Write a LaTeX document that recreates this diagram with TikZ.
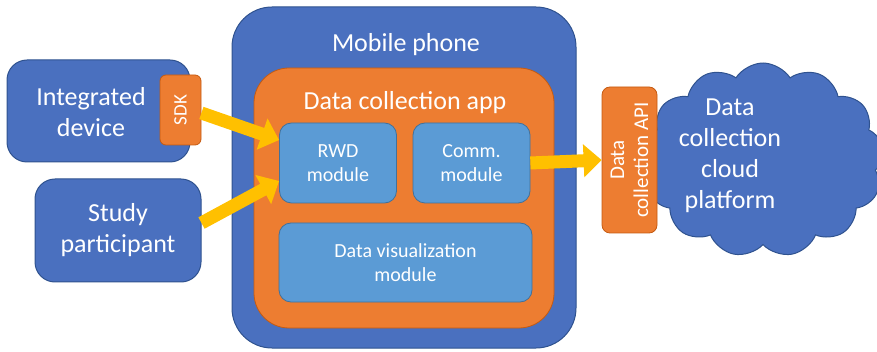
\documentclass[tikz,border=0pt]{standalone}
\usepackage{fontspec}
\setmainfont{Carlito}
\usetikzlibrary{arrows.meta,shapes.symbols}
\definecolor{dblue}{HTML}{4A70BF}
\definecolor{bblue}{HTML}{2F528F}
\definecolor{lblue}{HTML}{5B9BD5}
\definecolor{lbord}{HTML}{41719C}
\definecolor{orng}{HTML}{ED7D31}
\definecolor{obord}{HTML}{C55A11}
\definecolor{yarrow}{HTML}{FFC000}
\tikzset{
  bigfont/.style={font=\fontsize{26}{31}\selectfont, text=white, align=center},
  modfont/.style={font=\fontsize{20}{24}\selectfont, text=white, align=center},
  bluebox/.style={draw=bblue, line width=1pt, fill=dblue, rounded corners=#1, inner sep=0pt},
  orangebox/.style={draw=obord, line width=0.8pt, fill=orng, rounded corners=#1, inner sep=0pt},
  modbox/.style={draw=lbord, line width=0.8pt, fill=lblue, rounded corners=12pt, inner sep=0pt, modfont},
  fatarrow/.style={draw=yarrow, line width=13pt, -{Triangle[length=18pt,width=32pt]}}
}
\begin{document}
\begin{tikzpicture}[x=1pt,y=-1pt]
\useasboundingbox (0,0) rectangle (877,352);
% left boxes
\node[bluebox=20pt, minimum width=183pt, minimum height=102pt] (intdev) at (98.5,111) {};
\node[bigfont] (inttext) at (91,112) {Integrated\\device};
\node[orangebox=6pt, minimum width=41pt, minimum height=70pt] (sdk) at (180.5,110) {};
\node[modfont, rotate=90, font=\fontsize{19}{22}\selectfont] (sdktext) at (sdk.center) {SDK};
\node[bluebox=20pt, minimum width=166pt, minimum height=103pt, bigfont] (study) at (118,230.5) {Study\\participant};
% phone
\node[bluebox=40pt, minimum width=344pt, minimum height=341pt] (phone) at (404,177.5) {};
\node[bigfont] (phonetext) at (406,45) {Mobile phone};
\node[orangebox=35pt, minimum width=300pt, minimum height=260pt] (app) at (404,198) {};
\node[bigfont] (apptext) at (405,103) {Data collection app};
\node[modbox, minimum width=117pt, minimum height=80pt] (rwd) at (338,163) {RWD\\module};
\node[modbox, minimum width=117pt, minimum height=80pt] (comm) at (471.5,163) {Comm.\\module};
\node[modbox, minimum width=253pt, minimum height=79pt] (viz) at (405.5,262.5) {Data visualization\\module};
% cloud
\node[cloud, cloud puffs=13, cloud puff arc=115, cloud ignores aspect, draw=bblue, line width=1pt, fill=dblue, minimum width=242pt, minimum height=194pt] (cloud) at (763,160) {};
\node[bigfont] (cloudtext) at (730,156) {Data\\collection\\cloud\\platform};
\node[orangebox=8pt, minimum width=55pt, minimum height=146pt] (api) at (629.5,160) {};
\node[modfont, rotate=90, font=\fontsize{21}{24}\selectfont] (apitext) at (api.center) {Data\\collection API};
% arrows
\draw[fatarrow] (sdk.east |- 0,113) -- (rwd.west |- 0,140);
\draw[fatarrow] (study.east |- 0,223) -- (rwd.west |- 0,181);
\draw[fatarrow] (comm.east) -- (api.west);
\end{tikzpicture}
\end{document}
